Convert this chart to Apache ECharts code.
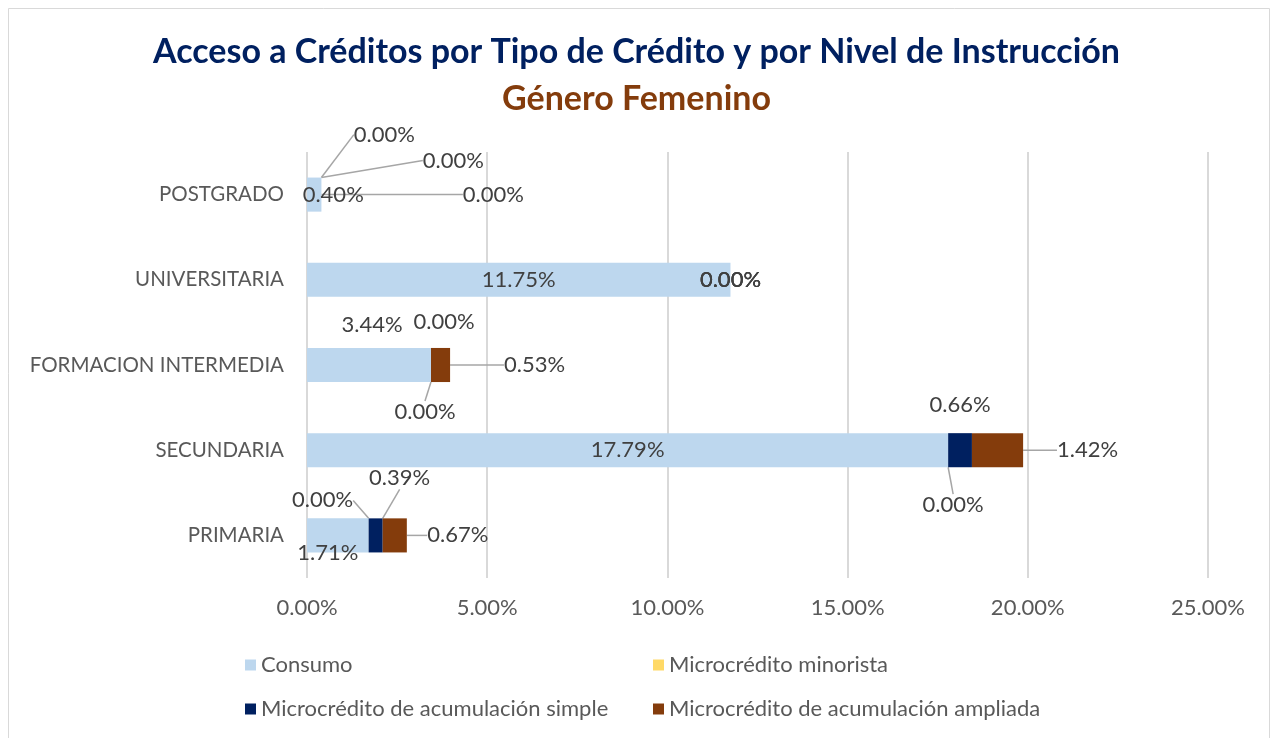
<!DOCTYPE html>
<html>
<head>
<meta charset="utf-8">
<script src="https://cdn.jsdelivr.net/npm/echarts@6/dist/echarts.min.js"></script>
<style>
  html, body { margin: 0; padding: 0; background: #fff; }
  #chart { width: 1273px; height: 738px; }
</style>
</head>
<body>
<div id="chart"></div>
<script>
// categorias (de abajo hacia arriba)
const niveles = ['PRIMARIA', 'SECUNDARIA', 'FORMACION INTERMEDIA', 'UNIVERSITARIA', 'POSTGRADO']
const seriesNames = [
  'Consumo',
  'Microcrédito minorista',
  'Microcrédito de acumulación simple',
  'Microcrédito de acumulación ampliada'
]
const consumo = [1.71, 17.79, 3.44, 11.75, 0.40]
const minorista = [0.00, 0.00, 0.00, 0.00, 0.00]
const acumSimple = [0.39, 0.66, 0.00, 0.00, 0.00]
const acumAmpliada = [0.67, 1.42, 0.53, 0.00, 0.00]
const xTicks = [0, 5, 10, 15, 20, 25]

const colors = ['#bdd7ee', '#ffd966', '#002060', '#843c0c']

// desplazamiento de etiquetas [dx, dy, conLinea] por serie y categoria
const labelMoves = [
  [[-10, 18, 0], null, [3, -40, 0], null, [19, 0, 0]],
  [[-46, -35, 1], [5, 55, 1], [13, -43, 0], null, [63, -60, 1]],
  [[24, -57, 1], [0, -45, 0], [-6, 47, 1], null, [132, -34, 1]],
  [[63, 0, 1], [90, 0, 1], [94, 0, 1], null, [172, 0, 1]]
]

const allValues = [consumo, minorista, acumSimple, acumAmpliada]
const font = 'Lato, "Noto Sans", sans-serif'

const chart = echarts.init(document.getElementById('chart'))

const series = allValues.map((vals, si) => ({
  name: seriesNames[si],
  type: 'bar',
  stack: 'total',
  barWidth: '40%',
  itemStyle: { color: colors[si] },
  label: {
    show: true,
    position: 'inside',
    color: '#404040',
    fontSize: 22,
    fontFamily: font,
    formatter: p => p.value.toFixed(2) + '%'
  },
  labelLine: { show: false, lineStyle: { color: '#a6a6a6', width: 1.5 } },
  labelLayout: p => {
    const m = labelMoves[si][p.dataIndex]
    return m ? { dx: m[0], dy: m[1] } : {}
  },
  data: vals.map((v, i) => {
    const m = labelMoves[si][i]
    return { value: v, labelLine: { show: !!(m && m[2]) } }
  })
}))

chart.setOption({
  animation: false,
  backgroundColor: '#fff',
  textStyle: { fontFamily: font },
  graphic: [{
    type: 'rect',
    shape: { x: 8.5, y: 8.5, width: 1261, height: 740 },
    style: { fill: 'none', stroke: '#d9d9d9', lineWidth: 1 },
    silent: true
  }],
  title: [
    {
      text: 'Acceso a Créditos por Tipo de Crédito y por Nivel de Instrucción',
      left: 'center',
      top: 30,
      textStyle: { color: '#002060', fontSize: 34, fontWeight: 'bold', fontFamily: font }
    },
    {
      text: 'Género Femenino',
      left: 'center',
      top: 77,
      textStyle: { color: '#843c0c', fontSize: 34, fontWeight: 'bold', fontFamily: font }
    }
  ],
  legend: [
    {
      data: [seriesNames[0], seriesNames[2]],
      orient: 'vertical',
      left: 240,
      top: 649,
      itemGap: 22,
      itemWidth: 11,
      itemHeight: 11,
      icon: 'rect',
      textStyle: { color: '#595959', fontSize: 22, fontFamily: font }
    },
    {
      data: [seriesNames[1], seriesNames[3]],
      orient: 'vertical',
      left: 648,
      top: 649,
      itemGap: 22,
      itemWidth: 11,
      itemHeight: 11,
      icon: 'rect',
      textStyle: { color: '#595959', fontSize: 22, fontFamily: font }
    }
  ],
  grid: { left: 307, right: 65, top: 152, bottom: 160 },
  xAxis: {
    type: 'value',
    min: xTicks[0],
    max: xTicks[xTicks.length - 1],
    interval: xTicks[1] - xTicks[0],
    axisLine: { show: false },
    axisTick: { show: false },
    splitLine: { lineStyle: { color: '#d9d9d9', width: 2 } },
    axisLabel: {
      color: '#595959',
      fontSize: 22,
      fontFamily: font,
      margin: 19,
      formatter: v => v.toFixed(2) + '%'
    }
  },
  yAxis: {
    type: 'category',
    data: niveles,
    axisLine: { show: false },
    axisTick: { show: false },
    axisLabel: { color: '#595959', fontSize: 20.5, fontFamily: font, margin: 23 }
  },
  series: series
})
</script>
</body>
</html>
